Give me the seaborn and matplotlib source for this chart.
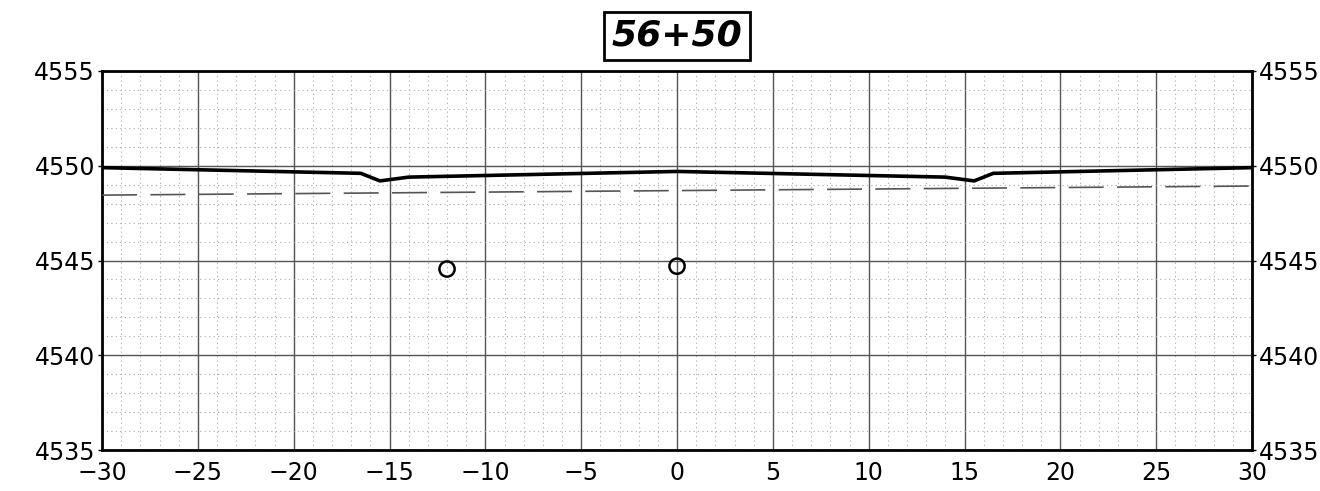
import numpy as np
import pandas as pd
import matplotlib
matplotlib.use("Agg")
import matplotlib.pyplot as plt
import seaborn as sns

# Cross-section at station 56+50
station = "56+50"
offsets = [-30, -16.5, -15.5, -14, 0, 14, 15.5, 16.5, 30]
ground = [4549.9, 4549.6, 4549.2, 4549.4, 4549.7, 4549.4, 4549.2, 4549.6, 4549.9]
existing_x = [-30, 30]
existing_y = [4548.45, 4548.93]
point_x = [-12, 0]
point_y = [4544.55, 4544.7]

x_ticks = list(range(-30, 31, 5))
y_ticks = list(range(4535, 4556, 5))

sns.set_theme(style="white")
plt.rcParams["font.family"] = ["DejaVu Sans"]

fig = plt.figure(figsize=(13.2, 4.91), dpi=100)
ax = fig.add_axes([0.0773, 0.0835, 0.8712, 0.7719])

ground_df = pd.DataFrame({"offset": offsets, "elev": ground})
exist_df = pd.DataFrame({"offset": existing_x, "elev": existing_y})
pts_df = pd.DataFrame({"offset": point_x, "elev": point_y})

sns.lineplot(data=exist_df, x="offset", y="elev", ax=ax, color="#555555",
             lw=1.2, dashes=False, linestyle=(0, (21, 8)), zorder=3)
sns.lineplot(data=ground_df, x="offset", y="elev", ax=ax, color="black",
             lw=2.6, zorder=4, sort=False)
sns.scatterplot(data=pts_df, x="offset", y="elev", ax=ax, s=120,
                facecolor="none", edgecolor="black", linewidth=1.8, zorder=5)

ax.set_xlim(-30, 30)
ax.set_ylim(4535, 4555)
ax.set_xticks(x_ticks)
ax.set_yticks(y_ticks)
ax.set_xticklabels([f"{v}".replace("-", "\u2212") for v in x_ticks])
ax.set_xticks(np.arange(-30, 31, 1), minor=True)
ax.set_yticks(np.arange(4535, 4556, 1), minor=True)

ax.grid(which="major", color="#555555", lw=1.0, ls="-")
ax.grid(which="minor", color="#aaaaaa", lw=0.8, ls=(0, (1, 3)))
ax.set_axisbelow(True)

ax.tick_params(axis="both", which="major", labelsize=17, length=3,
               color="black", width=1, pad=2, labelcolor="black")
ax.tick_params(axis="x", which="major", pad=5)
ax.tick_params(axis="y", which="major", labelleft=True, labelright=True,
               left=True, right=True)
ax.tick_params(which="minor", length=0)
ax.set_xlabel("")
ax.set_ylabel("")

for sp in ax.spines.values():
    sp.set_visible(True)
    sp.set_color("black")
    sp.set_linewidth(2)

# Station label centred over the axes
ax.text(0.5, 1.0 + 35 / 379, station, transform=ax.transAxes,
        ha="center", va="center", fontsize=26,
        fontweight="bold", fontstyle="italic", color="black",
        bbox=dict(boxstyle="square,pad=0.2", facecolor="white",
                  edgecolor="black", linewidth=2))

fig.savefig("out.png", dpi=100, facecolor="white")
